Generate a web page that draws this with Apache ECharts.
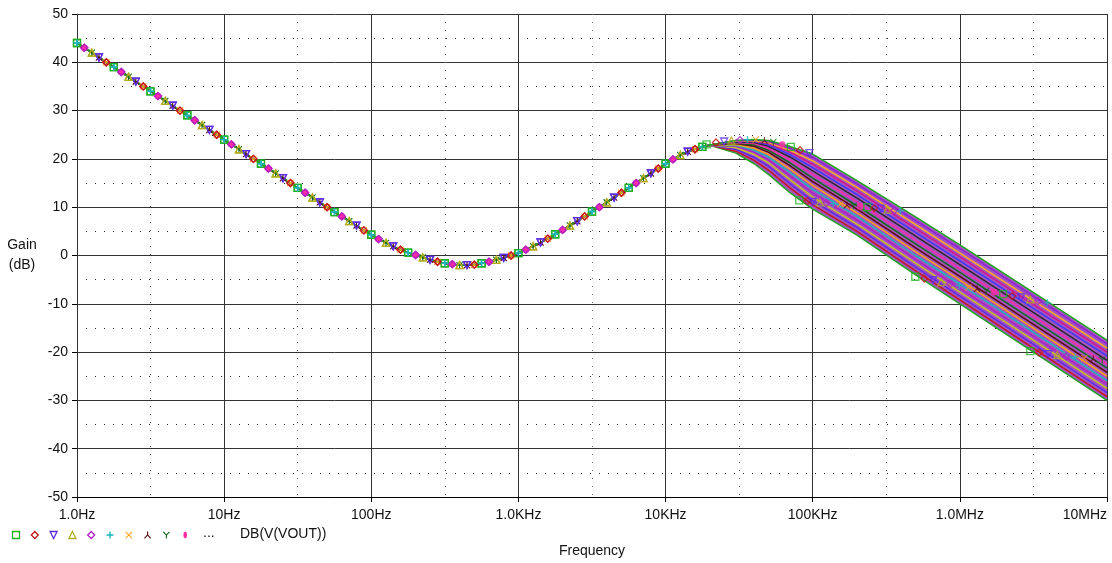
<!DOCTYPE html>
<html>
<head>
<meta charset="utf-8">
<script src="https://cdn.jsdelivr.net/npm/echarts@6/dist/echarts.min.js"></script>
<style>
  html, body { margin: 0; padding: 0; background: #fff; }
  #chart { width: 1112px; height: 563px; }
</style>
</head>
<body>
<div id="chart"></div>
<script>
// Frequencies (Hz) where all traces of the sweep lie on top of each other
const commonFreq = [1, 1.12, 1.26, 1.41, 1.58, 1.78, 2, 2.24, 2.51, 2.82,
  3.16, 3.55, 3.98, 4.47, 5.01, 5.62, 6.31, 7.08, 7.94, 8.91,
  10, 11.2, 12.6, 14.1, 15.8, 17.8, 20, 22.4, 25.1, 28.2,
  31.6, 35.5, 39.8, 44.7, 50.1, 56.2, 63.1, 70.8, 79.4, 89.1,
  100, 112, 126, 141, 158, 178, 200, 224, 251, 282,
  316, 355, 398, 447, 501, 562, 631, 708, 794, 891,
  1000, 1122, 1259, 1413, 1585, 1778, 1995, 2239, 2512, 2818,
  3162, 3548, 3981, 4467, 5012, 5623, 6310, 7079, 7943, 8913,
  10000, 11220, 12590, 14130, 15850, 17780];
const commonGain = [44.0, 43.0, 42.0, 41.0, 40.0, 39.0, 38.0, 37.0, 36.0, 35.0,
  34.0, 33.0, 32.0, 31.0, 30.0, 29.0, 28.0, 27.0, 26.0, 25.0,
  24.0, 23.0, 22.0, 21.0, 20.0, 19.0, 18.0, 17.0, 16.0, 15.0,
  14.0, 13.0, 12.0, 11.0, 10.0, 9.0, 8.1, 7.1, 6.2, 5.2,
  4.3, 3.4, 2.6, 1.9, 1.2, 0.6, 0.1, -0.4, -0.9, -1.3,
  -1.6, -1.8, -2.0, -2.0, -1.9, -1.6, -1.3, -0.9, -0.5, 0.0,
  0.5, 1.2, 1.9, 2.7, 3.5, 4.4, 5.3, 6.2, 7.1, 8.1,
  9.1, 10.0, 11.0, 12.0, 13.0, 14.0, 15.0, 16.0, 17.0, 18.0,
  19.0, 19.9, 20.8, 21.5, 22.0, 22.5];

// Above ~20 kHz the traces fan out (bottom trace first)
const tailFreq = [20e3, 30e3, 40e3, 50e3, 70e3, 100e3, 200e3, 500e3, 1e6, 10e6];
const traceTails = [
  [22.8, 21.2, 19.0, 16.8, 13.0,  9.6,  4.2, -4.0, -10.0, -30.0],
  [22.8, 21.6, 19.7, 17.7, 14.0, 10.5,  5.0, -3.2,  -9.2, -29.2],
  [22.8, 22.0, 20.3, 18.5, 14.9, 11.3,  5.8, -2.4,  -8.4, -28.4],
  [22.8, 22.3, 20.9, 19.2, 15.7, 12.1,  6.5, -1.6,  -7.6, -27.5],
  [22.8, 22.6, 21.4, 19.8, 16.5, 12.9,  7.3, -0.8,  -6.8, -26.7],
  [22.8, 22.8, 21.8, 20.4, 17.2, 13.7,  8.1,  0.0,  -5.9, -25.9],
  [22.8, 23.0, 22.2, 20.9, 17.9, 14.5,  8.8,  0.8,  -5.1, -25.0],
  [22.8, 23.2, 22.6, 21.4, 18.6, 15.3,  9.6,  1.6,  -4.3, -24.2],
  [22.9, 23.3, 22.9, 21.8, 19.2, 16.0, 10.3,  2.4,  -3.5, -23.3],
  [22.9, 23.4, 23.2, 22.2, 19.8, 16.8, 11.1,  3.2,  -2.7, -22.5],
  [22.9, 23.5, 23.4, 22.6, 20.4, 17.5, 11.9,  4.0,  -1.9, -21.7],
  [22.9, 23.6, 23.6, 22.9, 20.9, 18.2, 12.6,  4.8,  -1.1, -20.8],
  [22.9, 23.7, 23.7, 23.2, 21.4, 18.9, 13.4,  5.6,  -0.3, -20.0],
  [22.9, 23.7, 23.8, 23.4, 21.8, 19.6, 14.1,  6.4,   0.5, -19.2],
  [22.9, 23.8, 23.9, 23.6, 22.2, 20.3, 14.8,  7.2,   1.4, -18.3],
  [22.9, 23.8, 24.0, 23.8, 22.6, 21.0, 15.5,  8.0,   2.2, -17.5],
];

// Rows of trace markers that cross the band [Hz, dB]
const markRowA = [[19e3, 23.0], [22e3, 23.4], [25e3, 23.6],
  [28e3, 23.8], [32e3, 23.9], [36e3, 24.0], [41e3, 24.0], [47e3, 23.8], [54e3, 23.5],
  [62e3, 23.0], [71e3, 22.5], [82e3, 21.8], [95e3, 21.2]];
const markRowB = [[81e3, 11.4], [92e3, 11.3], [100e3, 11.1], [112e3, 11.0], [124e3, 10.9], [138e3, 10.7],
  [154e3, 10.6], [171e3, 10.4], [190e3, 10.3], [210e3, 10.1], [235e3, 10.0], [262e3, 9.8],
  [290e3, 9.7], [322e3, 9.5], [358e3, 9.3], [394e3, 9.2]];
const markRowC = [[498e3, -4.4], [573e3, -4.8], [659e3, -5.1], [748e3, -5.5], [861e3, -5.8], [991e3, -6.2],
  [1.14e6, -6.6], [1.31e6, -6.9], [1.51e6, -7.3], [1.71e6, -7.6], [1.97e6, -8.0], [2.27e6, -8.4],
  [2.61e6, -8.7], [3.01e6, -9.1], [3.41e6, -9.4], [3.93e6, -9.8]];
const markRowD = [[3.01e6, -19.8], [3.46e6, -20.1], [3.99e6, -20.4], [4.59e6, -20.6], [5.29e6, -20.9],
  [6.08e6, -21.0], [7.01e6, -21.2], [8.07e6, -21.4], [9.29e6, -21.6]];

const xTickLabels = ['1.0Hz', '10Hz', '100Hz', '1.0KHz', '10KHz', '100KHz', '1.0MHz', '10MHz'];
const traceName = 'DB(V(VOUT))';

// styles
const FONT = 'Liberation Sans';
const traceColors = ['#1fa81f', '#c4161c', '#5b2ce8', '#c8c020', '#b01fc2', '#1cb4bd', '#ff9f12', '#5c0a0a',
  '#0d6b1a', '#ff2aa8', '#2a2a2a', '#3b3bff', '#d2148c', '#ffae20', '#8d1fd6', '#1fa81f'];

// marker outlines in a 10x10 box
const markerStyles = [
  { pts: [[0, 0], [10, 0], [10, 10], [0, 10]], color: '#1fb01f', hollow: true },
  { pts: [[5, 0], [10, 5], [5, 10], [0, 5]], color: '#c4161c', hollow: true },
  { pts: [[0, 0], [10, 0], [5, 10]], color: '#5b2ce8', hollow: true },
  { pts: [[5, 0], [10, 10], [0, 10]], color: '#b2ad1c', hollow: true },
  { pts: [[5, 0], [10, 5], [5, 10], [0, 5]], color: '#b01fc2', hollow: true },
  { pts: [[4, 0], [6, 0], [6, 4], [10, 4], [10, 6], [6, 6], [6, 10], [4, 10], [4, 6], [0, 6], [0, 4], [4, 4]],
    color: '#1cb4bd', hollow: false },
  { pts: [[1, 0], [5, 4], [9, 0], [10, 1], [6, 5], [10, 9], [9, 10], [5, 6], [1, 10], [0, 9], [4, 5], [0, 1]],
    color: '#ff9f12', hollow: false },
  { pts: [[4.2, 0], [5.8, 0], [5.8, 4.6], [10, 9.2], [8.9, 10.3], [5, 6.2], [1.1, 10.3], [0, 9.2], [4.2, 4.6]],
    color: '#5c0a0a', hollow: false },
  { pts: [[0, 1.1], [1.1, 0], [5, 4.1], [8.9, 0], [10, 1.1], [5.8, 5.4], [5.8, 10], [4.2, 10], [4.2, 5.4]],
    color: '#0d6b1a', hollow: false },
  { pts: [[5, 0], [7, 1.5], [7.6, 5], [7, 8.5], [5, 10], [3, 8.5], [2.4, 5], [3, 1.5]],
    color: '#ff2aa8', hollow: false },
];

function symbolPath(ms) {
  return 'path://M' + ms.pts.map((p) => p[0] + ',' + p[1]).join('L') + 'Z';
}

function markerItemStyle(ms) {
  return ms.hollow
    ? { color: 'rgba(0,0,0,0)', borderColor: ms.color, borderWidth: 1.3 }
    : { color: ms.color, borderWidth: 0 };
}

function markerData(row) {
  return row.map((p, i) => {
    const ms = markerStyles[i % markerStyles.length];
    return { value: p, symbol: symbolPath(ms), itemStyle: markerItemStyle(ms) };
  });
}

const traceSeries = traceTails.map((tail, k) => {
  const ms = markerStyles[k % markerStyles.length];
  const data = commonFreq.map((f, j) => {
    const item = { value: [f, commonGain[j]] };
    if ((j + k) % 5 !== 0) item.symbol = 'none';
    return item;
  }).concat(tailFreq.map((f, i) => ({ value: [f, tail[i]], symbol: 'none' })));
  return {
    type: 'line',
    name: 'trace' + k,
    data: data,
    z: 3,
    symbol: symbolPath(ms),
    symbolSize: 7,
    showSymbol: true,
    lineStyle: { color: traceColors[k], width: 1.5 },
    itemStyle: markerItemStyle(ms),
    emphasis: { disabled: true },
    silent: true,
  };
});

// band fill under the fanned-out traces
const bandSeries = {
  type: 'custom',
  z: 2,
  silent: true,
  data: [[1e5, 0]],
  renderItem: function (params, api) {
    const top = tailFreq.map((f, i) => api.coord([f, traceTails[traceTails.length - 1][i]]));
    const bottom = tailFreq.map((f, i) => api.coord([f, traceTails[0][i]])).reverse();
    return { type: 'polygon', shape: { points: top.concat(bottom) }, style: { fill: '#a454c0' } };
  },
};

const markSeries = {
  type: 'scatter',
  z: 5,
  symbolSize: 7,
  silent: true,
  data: [].concat(markerData(markRowA), markerData(markRowB), markerData(markRowC), markerData(markRowD)),
};

// keeps the half-decade helper axis alive
const helperSeries = { type: 'scatter', xAxisIndex: 1, data: [], silent: true };

// legend drawn below the plot
const legendGraphics = markerStyles.map((ms, i) => {
  const x0 = 12.5 + i * 18.8;
  const y0 = 531.5;
  return {
    type: 'polygon',
    shape: { points: ms.pts.map((p) => [x0 + p[0] * 0.7, y0 + p[1] * 0.7]) },
    style: ms.hollow
      ? { fill: 'none', stroke: ms.color, lineWidth: 1.3 }
      : { fill: ms.color },
  };
});
legendGraphics.push(
  { type: 'text', x: 203, y: 526, style: { text: '...', font: '14px ' + FONT, fill: '#111' } },
  { type: 'text', x: 240, y: 527, style: { text: traceName, font: '14px ' + FONT, fill: '#111' } }
);

const chart = echarts.init(document.getElementById('chart'), null, { renderer: 'canvas' });

chart.setOption({
  animation: false,
  backgroundColor: '#fff',
  textStyle: { fontFamily: FONT },
  grid: { left: 77, right: 5, top: 14, bottom: 65 },
  xAxis: [
    {
      type: 'log',
      logBase: 10,
      min: 1,
      max: 1e7,
      name: 'Frequency',
      nameLocation: 'middle',
      nameGap: 47,
      nameTextStyle: { fontSize: 14, color: '#111', fontFamily: FONT },
      axisLine: { show: true, onZero: false, lineStyle: { color: '#000', width: 1 } },
      axisTick: { show: true, length: 5, lineStyle: { color: '#000' } },
      axisLabel: {
        fontSize: 14,
        color: '#111',
        fontFamily: FONT,
        margin: 11,
        alignMaxLabel: 'right',
        formatter: (v) => xTickLabels[Math.round(Math.log10(v))],
      },
      splitLine: { show: true, lineStyle: { color: '#333', width: 1 } },
      z: 1,
    },
    {
      // half-decade dotted lines, in log10 units
      type: 'value',
      min: 0,
      max: 7,
      interval: 0.5,
      position: 'top',
      axisLine: { show: false },
      axisTick: { show: false },
      axisLabel: { show: false },
      splitLine: { show: true, lineStyle: { color: '#666', width: 1, type: [1, 7] } },
      z: 0,
    },
  ],
  yAxis: {
    type: 'value',
    min: -50,
    max: 50,
    interval: 10,
    name: 'Gain\n(dB)',
    nameLocation: 'middle',
    nameRotate: 0,
    nameGap: 55,
    nameTextStyle: { fontSize: 14, color: '#111', fontFamily: FONT, lineHeight: 20, align: 'center' },
    axisLine: { show: true, lineStyle: { color: '#666', width: 1 } },
    axisTick: { show: true, length: 5, lineStyle: { color: '#000' } },
    axisLabel: { fontSize: 14, color: '#111', fontFamily: FONT, margin: 9 },
    splitLine: { show: true, lineStyle: { color: '#333', width: 1 } },
    minorTick: { show: false, splitNumber: 2 },
    minorSplitLine: { show: true, lineStyle: { color: '#222', width: 1, type: [1, 8] } },
  },
  graphic: legendGraphics,
  series: [bandSeries].concat(traceSeries, [markSeries, helperSeries]),
});
</script>
</body>
</html>
